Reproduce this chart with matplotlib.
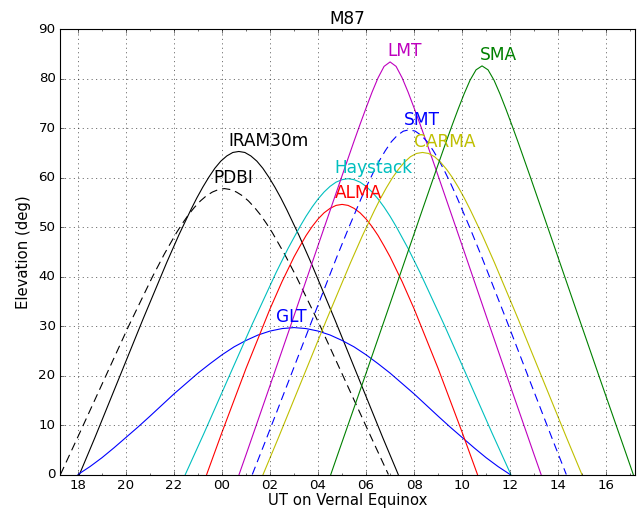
import matplotlib
matplotlib.use("Agg")
import matplotlib.pyplot as plt
from matplotlib.ticker import MultipleLocator

plt.style.use("classic")

# elevation of M87 vs UT (hours, continuing past 24)
iram_t = [18.06, 18.7, 19.7, 20.7, 21.7, 22.2, 22.7, 22.95, 23.2, 23.45, 23.7, 23.95, 24.2, 24.45, 24.7,
          24.95, 25.2, 25.45, 25.7, 25.95, 26.2, 26.45, 26.7, 27.2, 27.7, 28.7, 29.7, 30.7, 31.34]
iram_el = [0, 7.4, 19.35, 31.3, 42.9, 48.4, 53.5, 55.9, 58.1, 60.1, 61.9, 63.35, 64.4, 65.1, 65.3,
           65.1, 64.4, 63.35, 61.9, 60.1, 58.1, 55.9, 53.5, 48.4, 42.9, 31.3, 19.35, 7.4, 0]

pdbi_t = [17.27, 18.1, 19.1, 20.1, 21.1, 21.6, 22.1, 22.35, 22.6, 22.85, 23.1, 23.35, 23.6, 23.85, 24.1,
          24.35, 24.6, 24.85, 25.1, 25.35, 25.6, 25.85, 26.1, 26.6, 27.1, 28.1, 29.1, 30.1, 30.93]
pdbi_el = [0, 8.7, 19.3, 29.9, 39.95, 44.6, 48.85, 50.75, 52.5, 54.0, 55.3, 56.35, 57.1, 57.6, 57.8,
           57.6, 57.1, 56.35, 55.3, 54.0, 52.5, 50.75, 48.85, 44.6, 39.95, 29.9, 19.3, 8.7, 0]

glt_t = [18, 18.5, 19, 19.5, 20, 20.5, 21, 21.5, 22, 22.5, 23, 23.5, 24, 24.5, 25, 25.5, 26, 26.5, 27,
         27.5, 28, 28.5, 29, 29.5, 30, 30.5, 31, 31.5, 32, 32.5, 33, 33.5, 34, 34.5, 35, 35.5, 36]
glt_el = [0, 1.6, 3.4, 5.4, 7.5, 9.6, 11.8, 14.05, 16.3, 18.4, 20.5, 22.4, 24.2, 25.8, 27.1, 28.2, 29.0, 29.5, 29.7,
          29.5, 29.0, 28.2, 27.1, 25.8, 24.2, 22.4, 20.5, 18.4, 16.3, 14.05, 11.8, 9.6, 7.5, 5.4, 3.4, 1.6, 0]

hay_t = [22.47, 23.25, 24.25, 25.25, 26.25, 26.75, 27.25, 27.5, 27.75, 28.0, 28.25, 28.5, 28.75, 29.0, 29.25,
         29.5, 29.75, 30.0, 30.25, 30.5, 30.75, 31.0, 31.25, 31.75, 32.25, 33.25, 34.25, 35.25, 36.03]
hay_el = [0, 8.35, 19.35, 30.3, 40.8, 45.7, 50.15, 52.2, 54.05, 55.7, 57.1, 58.25, 59.1, 59.6, 59.8,
          59.6, 59.1, 58.25, 57.1, 55.7, 54.05, 52.2, 50.15, 45.7, 40.8, 30.3, 19.35, 8.35, 0]

alma_t = [23.36, 24.0, 25.0, 26.0, 26.5, 27.0, 27.25, 27.5, 27.75, 28.0, 28.25, 28.5, 28.75, 29.0,
          29.25, 29.5, 29.75, 30.0, 30.25, 30.5, 30.75, 31.0, 31.5, 32.0, 33.0, 34.0, 34.64]
alma_el = [0, 8.55, 21.45, 33.5, 39.0, 44.0, 46.2, 48.3, 50.1, 51.65, 52.9, 53.8, 54.4, 54.6,
           54.4, 53.8, 52.9, 51.65, 50.1, 48.3, 46.2, 44.0, 39.0, 33.5, 21.45, 8.55, 0]

lmt_t = [24.71, 25.0, 26.0, 27.0, 28.0, 28.5, 29.0, 29.25, 29.5, 29.75, 30.0, 30.25, 30.5, 30.75, 31.0,
         31.25, 31.5, 31.75, 32.0, 32.25, 32.5, 32.75, 33.0, 33.5, 34.0, 35.0, 36.0, 37.0, 37.29]
lmt_el = [0, 4.0, 18.0, 32.1, 46.3, 53.35, 60.4, 63.9, 67.4, 70.8, 74.1, 77.3, 80.2, 82.5, 83.4,
          82.5, 80.2, 77.3, 74.1, 70.8, 67.4, 63.9, 60.4, 53.35, 46.3, 32.1, 18.0, 4.0, 0]

smt_t = [25.26, 25.8, 26.8, 27.8, 28.8, 29.3, 29.8, 30.05, 30.3, 30.55, 30.8, 31.05, 31.3, 31.55, 31.8,
         32.05, 32.3, 32.55, 32.8, 33.05, 33.3, 33.55, 33.8, 34.3, 34.8, 35.8, 36.8, 37.8, 38.34]
smt_el = [0, 6.65, 19.2, 31.8, 44.2, 50.15, 55.85, 58.55, 61.05, 63.4, 65.45, 67.25, 68.55, 69.4, 69.7,
          69.4, 68.55, 67.25, 65.45, 63.4, 61.05, 58.55, 55.85, 50.15, 44.2, 31.8, 19.2, 6.65, 0]

carma_t = [25.71, 26.35, 27.35, 28.35, 29.35, 29.85, 30.35, 30.6, 30.85, 31.1, 31.35, 31.6, 31.85, 32.1, 32.35,
           32.6, 32.85, 33.1, 33.35, 33.6, 33.85, 34.1, 34.35, 34.85, 35.35, 36.35, 37.35, 38.35, 38.99]
carma_el = [0, 7.45, 19.35, 31.25, 42.8, 48.3, 53.4, 55.8, 58.0, 60.0, 61.7, 63.15, 64.25, 64.9, 65.1,
            64.9, 64.25, 63.15, 61.7, 60.0, 58.0, 55.8, 53.4, 48.3, 42.8, 31.25, 19.35, 7.45, 0]

sma_t = [28.53, 28.83, 29.83, 30.83, 31.83, 32.33, 32.83, 33.08, 33.33, 33.58, 33.83, 34.08, 34.33, 34.58, 34.83,
         35.08, 35.33, 35.58, 35.83, 36.08, 36.33, 36.58, 36.83, 37.33, 37.83, 38.83, 39.83, 40.83, 41.13]
sma_el = [0, 4.2, 18.1, 32.15, 46.25, 53.3, 60.3, 63.75, 67.2, 70.55, 73.8, 76.9, 79.7, 81.8, 82.6,
          81.8, 79.7, 76.9, 73.8, 70.55, 67.2, 63.75, 60.3, 53.3, 46.25, 32.15, 18.1, 4.2, 0]

# (name, times, elevations, style, label position)
stations = [
    ("IRAM30m", iram_t, iram_el, "k-", (24.25, 66.4)),
    ("PDBI", pdbi_t, pdbi_el, "k--", (23.65, 58.9)),
    ("GLT", glt_t, glt_el, "b-", (26.26, 30.9)),
    ("Haystack", hay_t, hay_el, "c-", (28.68, 61.0)),
    ("ALMA", alma_t, alma_el, "r-", (28.68, 55.8)),
    ("LMT", lmt_t, lmt_el, "m-", (30.87, 84.5)),
    ("SMT", smt_t, smt_el, "b--", (31.57, 70.6)),
    ("CARMA", carma_t, carma_el, "y-", (31.98, 66.2)),
    ("SMA", sma_t, sma_el, "g-", (34.73, 83.7)),
]

tick_hours = list(range(18, 41, 2))
tick_labels = ["%02d" % (h % 24) for h in tick_hours]

fig = plt.figure(figsize=(638 / 80.0, 511 / 80.0), dpi=80)
ax = fig.add_axes([0.094, 0.0714, 0.902, 0.8713])

for name, t, el, style, (tx, ty) in stations:
    line, = ax.plot(t, el, style)
    if style.endswith("--"):
        line.set_dashes((7.5, 4.5))
    ax.text(tx, ty, name, color=style[0], fontsize=15.3)

ax.set_xlim(17.25, 41.22)
ax.set_ylim(0, 90)
ax.set_xticks(tick_hours)
ax.set_xticklabels(tick_labels)
ax.xaxis.set_minor_locator(MultipleLocator(1))
ax.tick_params(labelsize=12)
ax.grid(True)

ax.set_title("M87", fontsize=15.2)
ax.set_xlabel("UT on Vernal Equinox", fontsize=13.4, labelpad=1)
ax.set_ylabel("Elevation (deg)", fontsize=13.4, labelpad=7)

fig.savefig("out.png", dpi=80)
